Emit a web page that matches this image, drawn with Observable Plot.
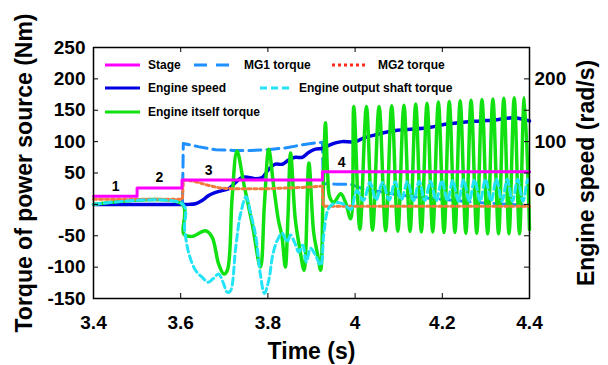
<!DOCTYPE html>
<html><head><meta charset="utf-8">
<script src="https://cdn.jsdelivr.net/npm/d3@7"></script>
<script src="https://cdn.jsdelivr.net/npm/@observablehq/plot@0.6"></script>
<style>
html,body{margin:0;padding:0;background:#fff;}
#chart{width:608px;height:365px;position:relative;}
</style></head><body><div id="chart"></div>
<script>
// ---- axis ticks ----
const xTicks = [3.4, 3.6, 3.8, 4.0, 4.2, 4.4];
const xTickLabels = ["3.4", "3.6", "3.8", "4", "4.2", "4.4"];
const yTicks = [-150, -100, -50, 0, 50, 100, 150, 200, 250];
const speedTicks = [0, 100, 200];
const speedTickLabels = ["0", "100", "200"];

// ---- Stage (drawn on torque axis) ----
const stageT = [3.40, 3.50, 3.603, 3.925, 4.40];
const stageV = [13, 26, 39, 52, 52];
const stageLabels = ["1", "2", "3", "4"];
const stageLabelT = [3.451, 3.551, 3.664, 3.969];
const stageLabelV = [29, 43, 54, 67];

// ---- MG1 torque (Nm) ----
const mg1T = [3.40, 3.604, 3.606, 3.64, 3.68, 3.72, 3.76, 3.80, 3.84, 3.88, 3.91, 3.925, 3.927, 3.96, 3.99, 4.02, 4.06, 4.10, 4.15, 4.20, 4.25, 4.30, 4.35, 4.40];
const mg1V = [0, 0, 97, 92, 87, 86, 86, 87, 90, 95, 98, 99, 33, 32, 32, 24, 20, 15, 11, 8, 5, 2, 0, -2];

// ---- MG2 torque (Nm) ----
const mg2T = [3.40, 3.604, 3.606, 3.63, 3.66, 3.69, 3.72, 3.80, 3.88, 3.925, 3.927, 4.40];
const mg2V = [8, 8, 39, 37, 31, 26, 25, 25, 27, 29, -3, -3];

// ---- Engine speed (rad/s) ----
const speedT = [3.40, 3.606, 3.619, 3.634, 3.649, 3.664, 3.680, 3.695, 3.710, 3.726, 3.741, 3.756, 3.771, 3.787, 3.802, 3.817, 3.833, 3.848, 3.863, 3.879, 3.894, 3.909, 3.924, 3.940, 3.955, 3.970, 4.001, 4.020, 4.042, 4.058, 4.097, 4.135, 4.173, 4.211, 4.249, 4.288, 4.326, 4.364, 4.40];
const speedV = [0, 0, 0, 1, 6, 14, 19, 22, 25, 35, 43, 43, 41, 43, 56, 64, 64, 71, 75, 75, 83, 88, 89, 94, 98, 100, 100, 106, 110, 113, 118, 120, 123, 128, 131, 133, 135, 138, 133];

// ---- Engine output shaft torque (Nm) ----
const shaftT = [3.40, 3.605, 3.609, 3.619, 3.634, 3.649, 3.663, 3.675, 3.687, 3.697, 3.707, 3.714, 3.726, 3.737, 3.750, 3.761, 3.772, 3.783, 3.792, 3.802, 3.811, 3.821, 3.833, 3.844, 3.852, 3.862, 3.871, 3.880, 3.888, 3.898, 3.909, 3.921, 3.928, 3.936, 3.944, 3.960, 3.975, 3.990,
  4.004, 4.019, 4.034, 4.048, 4.063, 4.078, 4.092, 4.106, 4.120, 4.134, 4.147, 4.160, 4.173, 4.186, 4.199, 4.212, 4.224, 4.237, 4.249, 4.262, 4.274, 4.287, 4.299, 4.312, 4.324, 4.337, 4.349, 4.361, 4.373, 4.385, 4.396, 4.40];
const shaftV = [0, 0, -40, -79, -105, -116, -124, -118, -111, -124, -140, -138, -70, -16, 12, -16, -50, -113, -142, -121, -81, -58, -46, -60, -49, -62, -76, -65, -92, -70, -81, -97, -49, -12, -2, 3, 0, -8,
  22, 6, 35, 7, 35, 7, 36, 7, 36, 6, 37, 6, 37, 6, 38, 6, 38, 5, 39, 5, 39, 5, 40, 5, 40, 5, 40, 5, 40, 5, 40, 30];

// ---- Engine itself torque (Nm) ----
const engT = [3.40, 3.604, 3.607, 3.626, 3.657, 3.672, 3.687, 3.699, 3.707, 3.718, 3.729, 3.745, 3.764, 3.783, 3.792, 3.802, 3.813, 3.824, 3.832, 3.840, 3.846, 3.852, 3.863, 3.873, 3.883, 3.894, 3.905, 3.914, 3.921, 3.926, 3.932, 3.937, 3.942, 3.951, 3.967, 3.978, 3.990,
  3.997, 4.011, 4.026, 4.040, 4.055, 4.070, 4.084, 4.098, 4.112, 4.126, 4.139, 4.152, 4.165, 4.178, 4.191, 4.204, 4.216, 4.229, 4.241, 4.254, 4.266, 4.279, 4.291, 4.304, 4.316, 4.329, 4.341, 4.353, 4.365, 4.377, 4.388, 4.40];
const engV = [0, 0, -47, -51, -42, -52, -95, -111, -105, 11, 85, 32, -31, -100, 0, 88, 30, -25, -50, -100, -20, 82, -25, -70, -105, 66, -45, -80, -105, 0, 130, 48, 11, 3, 17, 3, -23,
  156, -40, 156, -41, 156, -42, 157, -43, 158, -43, 160, -44, 161, -44, 163, -45, 164, -45, 165, -46, 166, -46, 167, -47, 168, -47, 169, -47, 170, -47, 170, -40];

const zip = (t, v) => t.map((x, i) => ({x, y: v[i]}));

const font = "'Liberation Sans', Arial, Helvetica, sans-serif";
const cMG1 = "#1E90FF", cMG2 = "#F5783C", cSpeed = "#0000E0", cEng = "#11E011", cShaft = "#22E4F6", cStage = "#FF00FF";

const W = 608, H = 365, mL = 93, mR = 79, mT = 47, mB = 67;
const fw = W - mL - mR, fh = H - mT - mB;

const plot = Plot.plot({
  width: W, height: H,
  marginLeft: mL, marginRight: mR, marginTop: mT, marginBottom: mB,
  x: {domain: [3.4, 4.4], label: null},
  y: {domain: [-150, 250], label: null},
  style: {fontFamily: font, fontWeight: "bold", color: "black", background: "white", overflow: "visible"},
  marks: [
    Plot.line(zip(mg1T, mg1V), {x: "x", y: "y", stroke: cMG1, strokeWidth: 3, strokeDasharray: "12,6"}),
    Plot.line(zip(speedT, speedV), {x: "x", y: "y", stroke: cSpeed, strokeWidth: 3.5, curve: "catmull-rom"}),
    Plot.line(zip(engT, engV), {x: "x", y: "y", stroke: cEng, strokeWidth: 3.5, curve: "catmull-rom"}),
    Plot.line(zip(mg2T, mg2V), {x: "x", y: "y", stroke: cMG2, strokeWidth: 3, strokeDasharray: "3,3"}),
    Plot.line(zip(shaftT, shaftV), {x: "x", y: "y", stroke: cShaft, strokeWidth: 3, strokeDasharray: "7,4", curve: "catmull-rom"}),
    Plot.line(zip(stageT, stageV), {x: "x", y: "y", stroke: cStage, strokeWidth: 3, curve: "step-after"}),
    Plot.text(stageLabels.map((s, i) => ({x: stageLabelT[i], y: stageLabelV[i], s})), {x: "x", y: "y", text: "s", fontSize: 14, fill: "black"}),
    // frame and inward ticks
    Plot.frame({stroke: "black", strokeWidth: 1.5}),
    Plot.tickY(yTicks, {y: d => d, insetRight: fw - 5, stroke: "black"}),
    Plot.tickY(yTicks, {y: d => d, insetLeft: fw - 5, stroke: "black"}),
    Plot.tickX(xTicks, {x: d => d, insetTop: fh - 5, stroke: "black"}),
    Plot.tickX(xTicks, {x: d => d, insetBottom: fh - 5, stroke: "black"}),
    // tick labels
    Plot.axisX(xTicks, {tickSize: 0, tickPadding: 17, fontSize: 19, label: null, tickFormat: d => xTickLabels[xTicks.indexOf(d)]}),
    Plot.axisY(yTicks, {anchor: "left", tickSize: 0, tickPadding: 8, fontSize: 19, label: null, tickFormat: d => String(d)}),
    Plot.axisY(speedTicks.slice(1), {anchor: "right", tickSize: 0, tickPadding: 5, fontSize: 19, label: null, tickFormat: d => speedTickLabels[speedTicks.indexOf(d)]}),
    Plot.axisY(speedTicks.slice(0, 1), {anchor: "right", tickSize: 0, tickPadding: 5, fontSize: 19, label: null, dy: -14, tickFormat: d => speedTickLabels[speedTicks.indexOf(d)]}),
    // axis titles
    Plot.text(["Time (s)"], {text: d => d, frameAnchor: "bottom", dy: 60, textAnchor: "middle", lineAnchor: "bottom", fontSize: 23, fill: "black"}),
    Plot.text(["Torque of power source (Nm)"], {text: d => d, frameAnchor: "left", dx: -69, rotate: -90, textAnchor: "middle", lineAnchor: "middle", fontSize: 23, fill: "black"}),
    Plot.text(["Engine speed (rad/s)"], {text: d => d, frameAnchor: "right", dx: 57, rotate: -90, textAnchor: "middle", lineAnchor: "middle", fontSize: 23, fill: "black"})
  ]
});

// ---- legend (inside the frame, no box) ----
const legendItems = [
  {label: "Stage", color: cStage, dash: null, x1: 105, x2: 140, tx: 148, y: 65},
  {label: "MG1 torque", color: cMG1, dash: "13,9", x1: 194, x2: 234, tx: 244, y: 65},
  {label: "MG2 torque", color: "#FF2A1A", dash: "3,3", x1: 332, x2: 366, tx: 378, y: 65},
  {label: "Engine speed", color: cSpeed, dash: null, x1: 105, x2: 140, tx: 148, y: 88},
  {label: "Engine output shaft torque", color: cShaft, dash: "7,4", x1: 260, x2: 289, tx: 299, y: 88},
  {label: "Engine itself torque", color: cEng, dash: null, x1: 105, x2: 140, tx: 148, y: 112}
];
const g = d3.select(plot).append("g");
for (const it of legendItems) {
  g.append("line").attr("x1", it.x1).attr("x2", it.x2).attr("y1", it.y).attr("y2", it.y)
    .attr("stroke", it.color).attr("stroke-width", 3).attr("stroke-dasharray", it.dash);
  g.append("text").attr("x", it.tx).attr("y", it.y).attr("dy", "0.35em")
    .attr("text-anchor", "start").attr("font-size", 12).attr("font-weight", "bold")
    .attr("fill", "black").text(it.label);
}

document.getElementById("chart").appendChild(plot);
</script></body></html>
